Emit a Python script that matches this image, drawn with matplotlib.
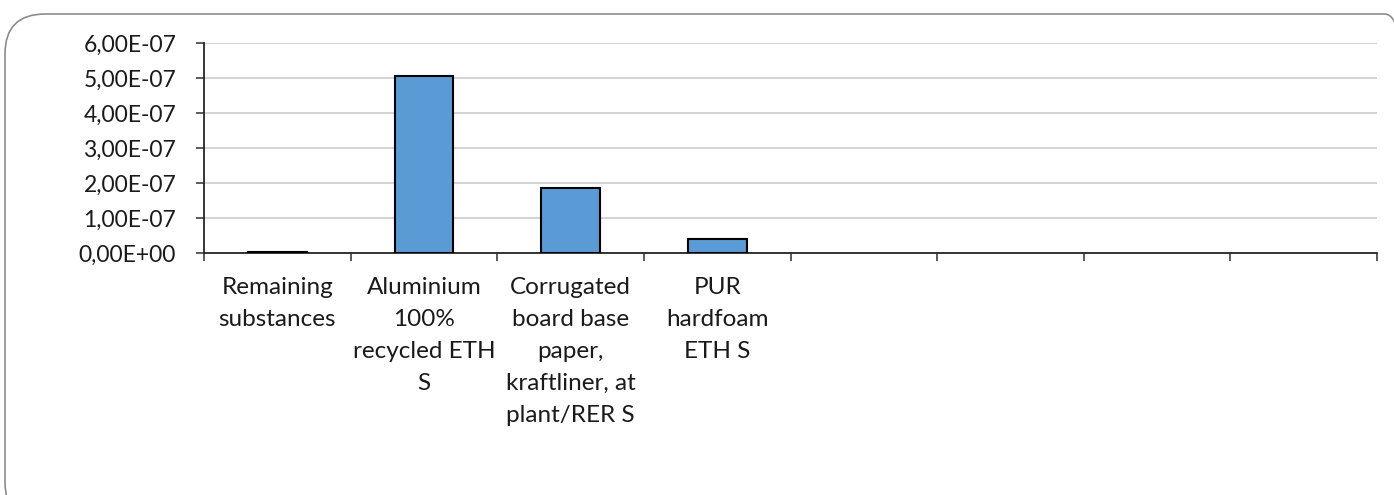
import numpy as np
import matplotlib
matplotlib.use("Agg")
import matplotlib.pyplot as plt
from matplotlib.patches import FancyBboxPatch
from matplotlib.transforms import IdentityTransform
from matplotlib.ticker import FuncFormatter, FixedLocator

plt.rcParams['font.family'] = ['Lato', 'DejaVu Sans']

categories = [
    "Remaining\nsubstances",
    "Aluminium\n100%\nrecycled ETH\nS",
    "Corrugated\nboard base\npaper,\nkraftliner, at\nplant/RER S",
    "PUR\nhardfoam\nETH S",
    "", "", "", "",
]
values = [3e-9, 5.07e-7, 1.85e-7, 4.0e-8, np.nan, np.nan, np.nan, np.nan]
y_ticks = [0, 1e-7, 2e-7, 3e-7, 4e-7, 5e-7, 6e-7]

W, H, DPI = 1394, 495, 100
fig = plt.figure(figsize=(W / DPI, H / DPI), dpi=DPI)
ax = fig.add_axes([204 / W, (H - 253) / H, (1377 - 204) / W, (253 - 43) / H])

text_color = "#1a1a1a"
fs = 17.5
x = np.arange(len(categories))
ax.bar(x, values, width=0.4, color="#5b9bd5", edgecolor="black",
       linewidth=1.5, zorder=3)

ax.set_xlim(-0.5, len(categories) - 0.5)
ax.set_ylim(0, 6e-7)

# y axis
ax.yaxis.set_major_locator(FixedLocator(y_ticks))
ax.yaxis.set_major_formatter(
    FuncFormatter(lambda v, p: f"{v:.2E}".replace(".", ",")))
ax.tick_params(axis="y", direction="out", length=6, width=1.2,
               color="#404040", pad=14, labelsize=16.5, labelcolor=text_color)
ax.grid(axis="y", color="#d0d0d0", linewidth=1.3, zorder=0)

# x axis: ticks between categories, labels centred
ax.set_xticks(np.arange(-0.5, len(categories)), minor=False)
ax.set_xticklabels([])
ax.set_xticks(x, minor=True)
ax.set_xticklabels(categories, minor=True, fontsize=fs, color=text_color,
                   linespacing=1.66, va="top")
ax.tick_params(axis="x", which="major", direction="out", length=6,
               width=1.2, color="#404040")
ax.tick_params(axis="x", which="minor", length=0, pad=17)

for s in ("top", "right"):
    ax.spines[s].set_visible(False)
for s in ("left", "bottom"):
    ax.spines[s].set_color("#262626")
    ax.spines[s].set_linewidth(1.3)
ax.set_axisbelow(True)

# rounded chart-area frame
frame = FancyBboxPatch((5, -27), 1420, 508,
                       boxstyle="round,pad=0,rounding_size=40",
                       transform=IdentityTransform(), facecolor="none",
                       edgecolor="#8c8c8c", linewidth=1.2)
fig.add_artist(frame)

fig.savefig("out.png", dpi=DPI, facecolor="white")
